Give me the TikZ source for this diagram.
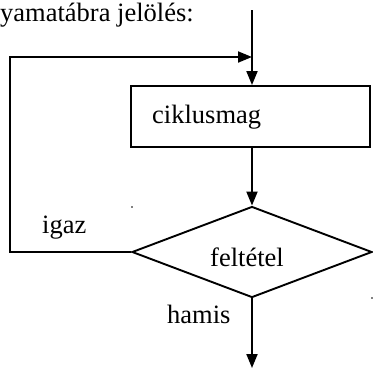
\documentclass[tikz,border=0pt]{standalone}
\usepackage{fontspec}
\setmainfont{Liberation Serif}
\usetikzlibrary{arrows.meta,shapes.geometric}
\begin{document}
\begin{tikzpicture}[x=1pt,y=-1pt,
  flow/.style={line width=1.9pt,-{Triangle[length=14pt,width=11pt]}},
  lbl/.style={font=\fontsize{26.5}{30}\selectfont,inner sep=0pt,anchor=base west}]
\useasboundingbox (0,0) rectangle (373,368);
\node[draw,line width=1.9pt,minimum width=239pt,minimum height=61pt,inner sep=0pt] (box) at (250.5,116.5) {};
\node[draw,diamond,line width=1.9pt,minimum width=240pt,minimum height=91pt,inner sep=0pt,aspect=2.64] (cond) at (252,252) {};
\coordinate (top) at (252,10);
\coordinate (join) at (252,57);
\coordinate (corner) at (10,252);
\coordinate (bottom) at (252,368);
\node[lbl] (title) at (0,21) {yamatábra jelölés:};
\node[lbl] (body) at (152,123) {ciklusmag};
\node[lbl] (condtext) at (210,266) {feltétel};
\node[lbl] (yes) at (42,233) {igaz};
\node[lbl] (no) at (167,323) {hamis};
\draw[flow] (top) -- (box.north -| top);
\draw[flow] (cond.west) -- (corner) |- (join);
\draw[flow] (box.south -| top) -- (cond.north);
\draw[flow] (cond.south) -- (bottom);
\fill (132,207) circle (0.9pt);
\fill (372,298) circle (0.9pt);
\end{tikzpicture}
\end{document}
